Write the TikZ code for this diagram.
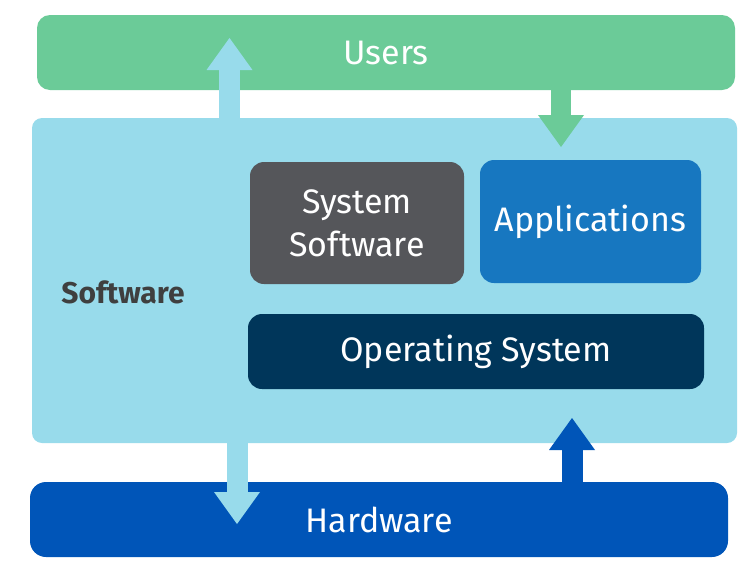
\documentclass[tikz,border=0pt]{standalone}
\usepackage{fontspec}
\setmainfont{Fira Sans}
\usetikzlibrary{arrows.meta}
\definecolor{usergreen}{HTML}{6BCB98}
\definecolor{swblue}{HTML}{98DBEB}
\definecolor{hwblue}{HTML}{0055B8}
\definecolor{sysgray}{HTML}{55565A}
\definecolor{appblue}{HTML}{1777C0}
\definecolor{osnavy}{HTML}{00365A}
\definecolor{labelgray}{HTML}{3F3F3F}
\tikzset{
  layer/.style={rectangle, inner sep=0pt, text=white, font=\fontsize{34}{43}\selectfont},
  block/.style={layer, rounded corners=14pt},
  flow/.style={line width=#1, -{Triangle[length=32pt,width=46pt,line width=0pt]}},
}
\begin{document}
\begin{tikzpicture}[x=1pt,y=-1pt]
  \useasboundingbox (0,0) rectangle (753,563);
  % layers
  \node[layer, fill=usergreen, rounded corners=13pt, minimum width=698pt, minimum height=75pt] (users) at (386,52.5) {Users};
  \node[layer, fill=swblue, rounded corners=10pt, minimum width=705pt, minimum height=325pt] (software) at (384.5,280.5) {};
  \node[layer, fill=hwblue, rounded corners=16pt, minimum width=698pt, minimum height=75pt] (hardware) at (379,519.5) {Hardware};
  % inside the software layer
  \node[block, fill=sysgray, minimum width=214pt, minimum height=122pt, align=center] (syssw) at (357,223) {System\\Software};
  \node[block, fill=appblue, minimum width=221pt, minimum height=123pt] (apps) at (590.5,221.5) {Applications};
  \node[block, fill=osnavy, minimum width=456pt, minimum height=75pt] (os) at (476,351.5) {Operating System};
  \node[text=labelgray, font=\fontsize{30}{34}\selectfont\bfseries] (swlabel) at (123,292) {Software};
  % flows between layers
  \coordinate (upTip) at (229.5,38);
  \coordinate (downTip) at (561,147);
  \coordinate (hwTip) at (237,524);
  \coordinate (swTip) at (572,418);
  \draw[flow=21pt, swblue] (software.north -| upTip) -- (upTip);
  \draw[flow=20pt, usergreen] (users.south -| downTip) -- (downTip);
  \draw[flow=21pt, swblue] (software.south -| hwTip) -- (hwTip);
  \draw[flow=21pt, hwblue] (hardware.north -| swTip) -- (swTip);
\end{tikzpicture}
\end{document}
